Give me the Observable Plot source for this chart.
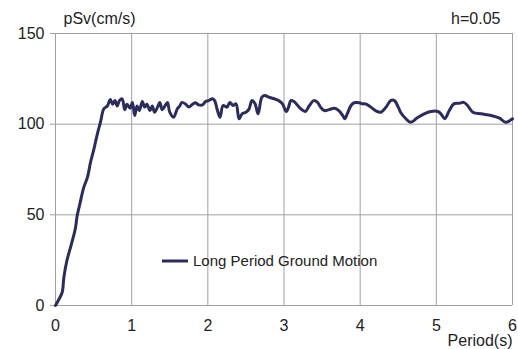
<!DOCTYPE html>
<html>
<head>
<meta charset="utf-8">
<script src="https://cdn.jsdelivr.net/npm/d3@7"></script>
<script src="https://cdn.jsdelivr.net/npm/@observablehq/plot@0.6"></script>
<style>
  html, body { margin: 0; padding: 0; background: #fff; }
  #wrap { position: relative; width: 518px; height: 349px; font-family: "Liberation Sans", Arial, sans-serif; }
  #legend { position: absolute; left: 162px; top: 252px; display: flex; align-items: center; font-size: 15px; color: #222; white-space: nowrap; }
  #legend svg { margin-right: 5px; }
</style>
</head>
<body>
<div id="wrap"></div>
<script>
const seriesName = "Long Period Ground Motion";
const period = [0, 0.04, 0.088, 0.11, 0.15, 0.21, 0.26, 0.285, 0.32, 0.37, 0.42, 0.46, 0.50, 0.55, 0.59, 0.635, 0.68, 0.72, 0.75, 0.78, 0.81, 0.84, 0.875, 0.91, 0.94, 0.98, 1.01, 1.04, 1.07, 1.10, 1.14, 1.17, 1.20, 1.24, 1.27, 1.30, 1.34, 1.37, 1.40, 1.44, 1.47, 1.50, 1.55, 1.60, 1.63, 1.66, 1.71, 1.75, 1.80, 1.84, 1.88, 1.93, 1.97, 2.01, 2.06, 2.09, 2.12, 2.16, 2.20, 2.25, 2.29, 2.33, 2.37, 2.41, 2.45, 2.50, 2.54, 2.58, 2.62, 2.66, 2.71, 2.75, 2.80, 2.87, 2.93, 2.98, 3.03, 3.06, 3.09, 3.13, 3.18, 3.22, 3.28, 3.33, 3.39, 3.44, 3.48, 3.53, 3.59, 3.66, 3.72, 3.77, 3.80, 3.83, 3.88, 3.92, 3.99, 4.03, 4.07, 4.14, 4.20, 4.27, 4.34, 4.40, 4.45, 4.50, 4.53, 4.60, 4.66, 4.75, 4.84, 4.93, 5.02, 5.06, 5.11, 5.17, 5.23, 5.30, 5.36, 5.41, 5.48, 5.59, 5.72, 5.83, 5.91, 5.98, 6.0];
const psv = [0, 3, 7.3, 15.6, 24.8, 34, 42.3, 49.6, 56, 65, 70.8, 79, 85.5, 94.7, 101, 108.5, 110, 113.6, 111, 113, 110, 113, 114, 108, 111, 108.8, 112, 104.8, 110, 107.5, 112.5, 109.4, 111, 107.5, 110, 106.6, 109.4, 112, 108, 110.3, 112, 106.6, 103.8, 108.5, 110, 112, 111, 109.4, 111, 111.8, 110.6, 110.6, 112.5, 113, 114, 113, 108.5, 103.8, 110.3, 109.4, 112, 110.3, 111.2, 103, 105.7, 106.6, 108.3, 113, 111.2, 105.7, 114.9, 115.8, 114.9, 114, 113, 111.2, 107, 109.4, 113, 112.5, 110.3, 108.5, 107, 110, 113, 112, 109.4, 107.5, 108, 108.8, 107.5, 104.8, 103, 105.7, 110.3, 111.8, 111.8, 111.2, 111.2, 109.4, 107.5, 106.6, 109.4, 113, 113, 109.4, 106.6, 103, 101, 103.5, 105.7, 107, 107, 105.7, 103, 107.5, 111.2, 111.5, 112, 110.3, 106.6, 105.7, 104.8, 103.3, 101, 102.4, 103];
const xTicks = [0, 1, 2, 3, 4, 5, 6];
const yTicks = [0, 50, 100, 150];
const yLabel = "pSv(cm/s)";
const xLabel = "Period(s)";
const dampLabel = "h=0.05";

const data = period.map((t, i) => ({t, v: psv[i]}));
const lineColor = "#2b2c5c";
const gridColor = "#a0a0a0";

const chart = Plot.plot({
  width: 518,
  height: 349,
  marginLeft: 55,
  marginRight: 6,
  marginTop: 33,
  marginBottom: 44,
  style: {fontFamily: "'Liberation Sans', Arial, sans-serif", fontSize: "16px", color: "#222", background: "#fff"},
  x: {domain: [0, 6]},
  y: {domain: [0, 150]},
  marks: [
    Plot.gridX(xTicks, {stroke: gridColor, strokeOpacity: 1, strokeWidth: 1}),
    Plot.gridY(yTicks, {stroke: gridColor, strokeOpacity: 1, strokeWidth: 1}),
    Plot.axisX(xTicks, {tickSize: 0, tickPadding: 14, label: null, tickFormat: d => String(d), fontSize: 16}),
    Plot.axisY(yTicks, {tickSize: 5, tickPadding: 6, label: null, stroke: gridColor, tickFormat: d => String(d), fontSize: 16}),
    Plot.line(data, {x: "t", y: "v", stroke: lineColor, strokeWidth: 3, curve: "catmull-rom"}),
    Plot.text([yLabel], {frameAnchor: "top-left", dx: 8, dy: -15, textAnchor: "start", lineAnchor: "middle", fontSize: 16, fill: "#222"}),
    Plot.text([dampLabel], {frameAnchor: "top-right", dx: -12, dy: -15, textAnchor: "end", lineAnchor: "middle", fontSize: 16, fill: "#222"}),
    Plot.text([xLabel], {frameAnchor: "bottom-right", dx: 0, dy: 35, textAnchor: "end", lineAnchor: "middle", fontSize: 16, fill: "#222"})
  ]
});

const wrap = document.getElementById("wrap");
wrap.appendChild(chart);
const legend = document.createElement("div");
legend.id = "legend";
legend.innerHTML = `<svg width="26" height="6"><line x1="0" y1="3" x2="26" y2="3" stroke="${lineColor}" stroke-width="3"/></svg><span>${seriesName}</span>`;
wrap.appendChild(legend);
</script>
</body>
</html>
